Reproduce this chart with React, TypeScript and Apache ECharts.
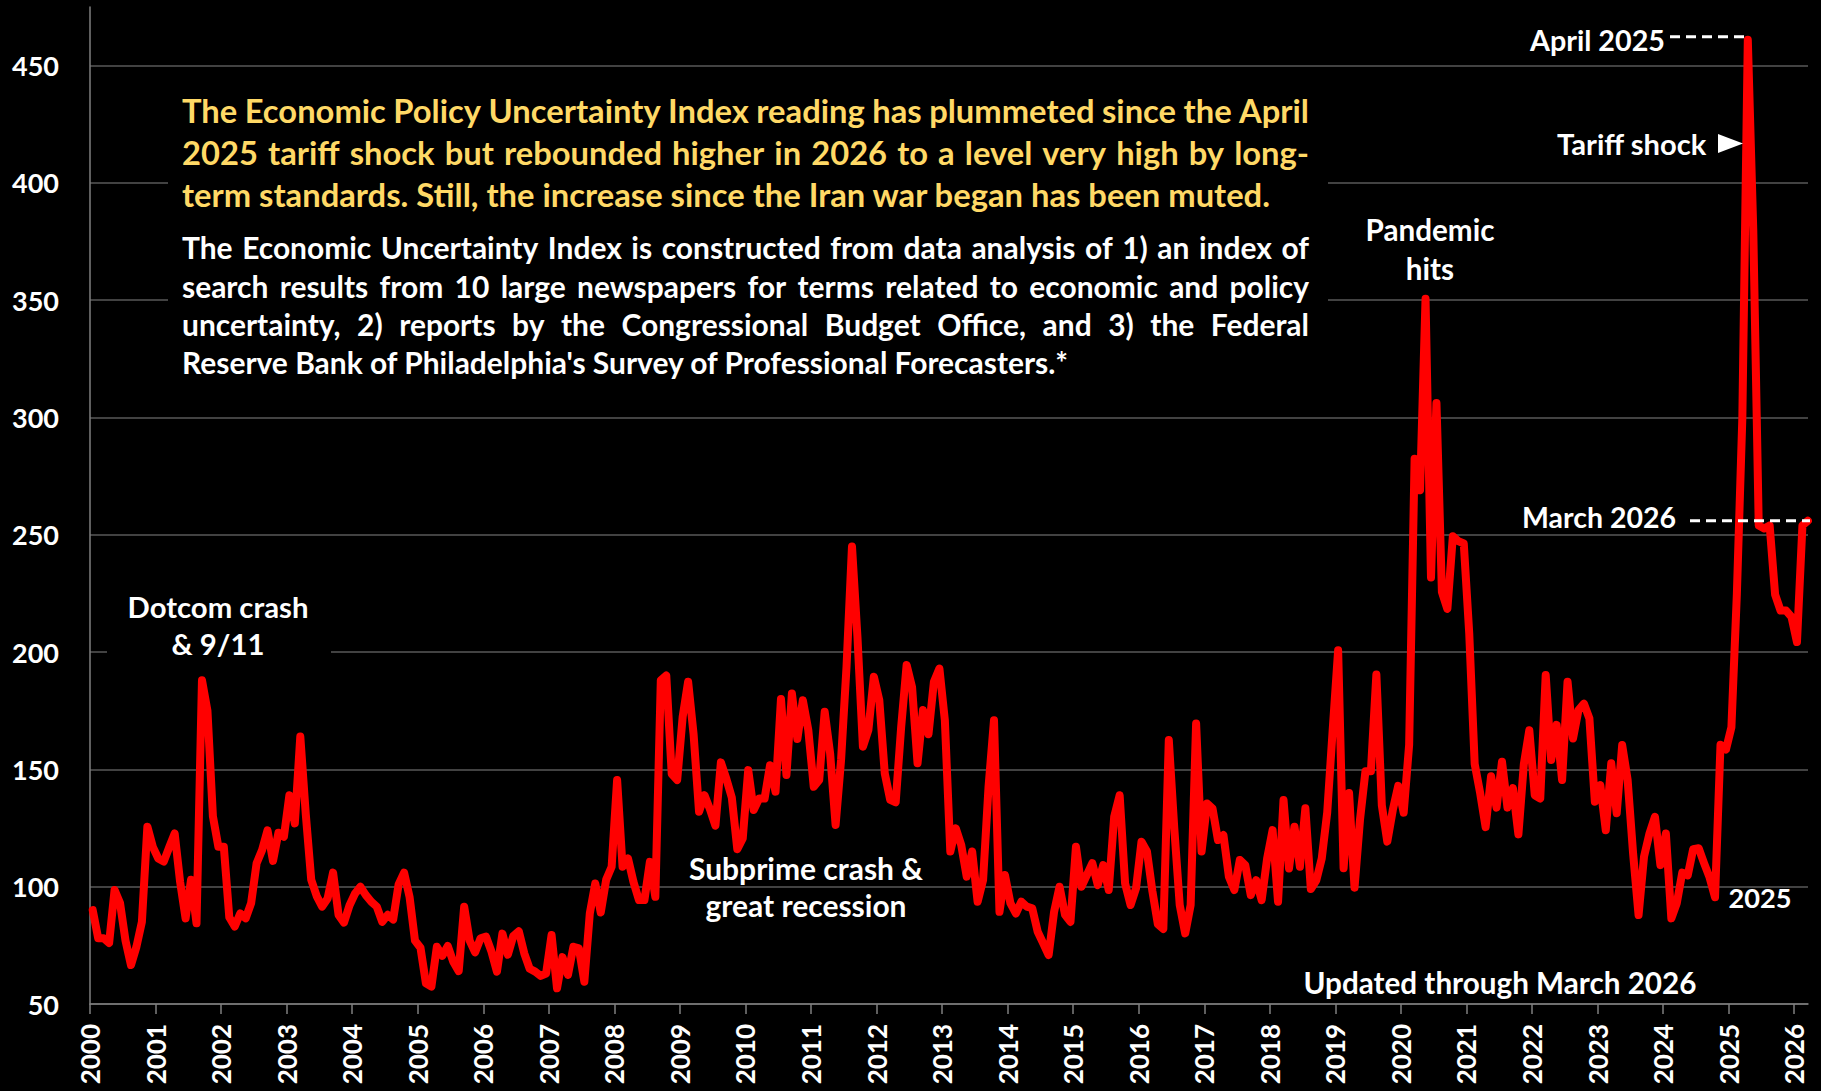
import React, { useEffect, useRef } from "react";
import * as echarts from "echarts";

// ---------- data ----------
const YEARS = [
  2000, 2001, 2002, 2003, 2004, 2005, 2006, 2007, 2008, 2009, 2010, 2011, 2012,
  2013, 2014, 2015, 2016, 2017, 2018, 2019, 2020, 2021, 2022, 2023, 2024, 2025, 2026,
];
const Y_TICKS = [50, 100, 150, 200, 250, 300, 350, 400, 450];

const EPU_2000 = [90, 78, 78, 76, 98.6, 93, 77, 66.6, 74.4, 85, 125.6, 117];
const EPU_2001 = [112, 110.7, 116.8, 122.7, 102, 86.5, 103, 84.4, 188, 175, 130, 117];
const EPU_2002 = [117, 87, 83, 88.6, 86.5, 93, 110, 115.6, 124, 111, 123, 121.3];
const EPU_2003 = [139, 127, 164, 131, 103, 96, 91.5, 95, 106, 88, 84.7, 92];
const EPU_2004 = [97, 100, 96.4, 93.6, 91.5, 85, 88, 86, 101, 106, 95.7, 77];
const EPU_2005 = [74, 58.8, 57.4, 74.4, 70.5, 74.7, 68, 64, 91.5, 77, 72, 78];
const EPU_2006 = [78.7, 72.3, 63.8, 80, 71, 79, 81, 71.6, 65, 63.8, 62, 63];
const EPU_2007 = [79.4, 56.7, 70, 62.4, 74.4, 73.7, 59.5, 88.6, 101.4, 89, 103, 108.5];
const EPU_2008 = [145.5, 108.5, 112, 102, 94.3, 94.3, 110.6, 95.7, 188, 190, 148, 145.5];
const EPU_2009 = [172.4, 187.4, 165, 132, 139, 133, 126, 153, 146, 138, 116, 120.6];
const EPU_2010 = [149.7, 132.7, 137.6, 137.6, 151.8, 140.5, 180, 147.6, 182.4, 163, 179.5, 166.8];
const EPU_2011 = [142.6, 145.5, 174.6, 156.8, 126.3, 154, 193.8, 245, 206.5, 159.7, 166.8, 189.5];
const EPU_2012 = [179.5, 148.3, 137, 136, 168, 194.5, 185, 152.6, 175.3, 165, 187.4, 193];
const EPU_2013 = [171, 115, 124.9, 117.8, 104.3, 115, 93.6, 102.8, 142.6, 171, 89.3, 105];
const EPU_2014 = [93, 88.6, 93.6, 91.5, 90.8, 80.8, 75.9, 70.9, 89.3, 100, 88, 85];
const EPU_2015 = [117, 100, 105, 110, 100.7, 109.2, 98.6, 129.8, 139, 101.4, 92.2, 99.3];
const EPU_2016 = [119.2, 115, 98, 84, 82, 162.5, 125, 92.2, 80.1, 92.2, 169.6, 115];
const EPU_2017 = [135.5, 133.4, 119.9, 122, 104.3, 98.6, 111.4, 109.2, 96.4, 102.8, 94.3, 112];
const EPU_2018 = [124.1, 93.6, 137, 107.8, 125.6, 108.5, 133.4, 99, 102.7, 112, 131.6, 166.7];
const EPU_2019 = [200.8, 107.9, 139.9, 99.6, 128.5, 149.2, 149.2, 190.5, 134.7, 119.2, 132.6, 143];
const EPU_2020 = [131.6, 160.5, 282.4, 269, 350.6, 231.8, 306.2, 225.6, 218.4, 249.4, 247.3, 246.3];
const EPU_2021 = [208, 152.3, 139.9, 125.4, 147.1, 133.7, 153.3, 133.7, 142, 122.3, 152.3, 166.7];
const EPU_2022 = [139, 137.6, 190.2, 154, 169, 145.5, 187.4, 163.2, 175.3, 178, 171.7, 136.2];
const EPU_2023 = [143.3, 124.1, 152.6, 131.3, 160.4, 145.5, 114.2, 87.9, 112.8, 122.7, 129.8, 109.2];
const EPU_2024 = [122.7, 86.5, 93, 106, 104.8, 116, 116.4, 110, 104, 95.5, 160.5, 158.5];
const EPU_2025 = [168, 225, 300, 461, 380, 254, 252.7, 254, 224.5, 217.7, 217.7, 215];
const EPU_2026 = [204.3, 254, 256];

const EPU_BY_YEAR = [
  EPU_2000, EPU_2001, EPU_2002, EPU_2003, EPU_2004, EPU_2005, EPU_2006, EPU_2007,
  EPU_2008, EPU_2009, EPU_2010, EPU_2011, EPU_2012, EPU_2013, EPU_2014, EPU_2015,
  EPU_2016, EPU_2017, EPU_2018, EPU_2019, EPU_2020, EPU_2021, EPU_2022, EPU_2023,
  EPU_2024, EPU_2025, EPU_2026,
];

const TITLE_LINES = [
  "The Economic Policy Uncertainty Index reading has plummeted since the April",
  "2025 tariff shock but rebounded higher in 2026 to a level very high by long-",
  "term standards. Still, the increase since the Iran war began has been muted.",
];
const NOTE_LINES = [
  "The Economic Uncertainty Index is constructed from data analysis of 1) an index of",
  "search results from 10 large newspapers for terms related to economic and policy",
  "uncertainty, 2) reports by the Congressional Budget Office, and 3) the Federal",
  "Reserve Bank of Philadelphia's Survey of Professional Forecasters.*",
];

// ---------- layout helpers ----------
const FAMILY = "Lato, 'Open Sans', 'DejaVu Sans', sans-serif";
let ctx: CanvasRenderingContext2D | null = null;
function measure(text: string, size: number): number {
  if (!ctx) ctx = document.createElement("canvas").getContext("2d");
  ctx!.font = `bold ${size}px ${FAMILY}`;
  return ctx!.measureText(text).width;
}
function fit(text: string, width: number): number {
  return (30 * width) / measure(text, 30);
}
function txt(text: string, x: number, y: number, size: number, fill: string, align = "left") {
  return {
    type: "text",
    x,
    y,
    z: 20,
    style: {
      text,
      fill,
      font: `bold ${size}px ${FAMILY}`,
      textAlign: align,
      textVerticalAlign: "middle",
    },
  };
}
function paragraph(lines: string[], x0: number, x1: number, ys: number[], size: number, fill: string) {
  const out: any[] = [];
  lines.forEach((line, li) => {
    const last = li === lines.length - 1;
    if (last) {
      out.push(txt(line, x0, ys[li], size, fill));
      return;
    }
    const words = line.split(" ");
    const widths = words.map((w) => measure(w, size));
    const total = widths.reduce((a, b) => a + b, 0);
    const gap = (x1 - x0 - total) / (words.length - 1);
    let x = x0;
    words.forEach((w, i) => {
      out.push(txt(w, x, ys[li], size, fill));
      x += widths[i] + gap;
    });
  });
  return out;
}

export default function App() {
  const ref = useRef<HTMLDivElement>(null);
  useEffect(() => {
    document.body.style.margin = "0";
    document.body.style.background = "#000";
    document.body.style.overflow = "hidden";
    const chart = echarts.init(ref.current!, null, { renderer: "svg" });

    const data: [number, number][] = [];
    EPU_BY_YEAR.forEach((arr, yi) =>
      arr.forEach((v, mi) => data.push([YEARS[yi] + (mi + 0.5) / 12, v]))
    );

    const axisGray = "#7f7f7f";
    chart.setOption({
      animation: false,
      backgroundColor: "#000000",
      grid: { left: 90, right: 13, top: 7, bottom: 87, containLabel: false },
      xAxis: {
        type: "value",
        min: 2000,
        max: 2026.21,
        interval: 1,
        axisLine: { show: true, lineStyle: { color: axisGray, width: 1.5 } },
        axisTick: {
          show: true,
          length: 10,
          customValues: YEARS,
          lineStyle: { color: axisGray, width: 1.5 },
        },
        axisLabel: {
          customValues: YEARS,
          rotate: 90,
          margin: 20,
          color: "#ffffff",
          fontFamily: FAMILY,
          fontWeight: "bold",
          fontSize: 26,
          formatter: (v: number) => (Number.isInteger(v) ? String(v) : ""),
        },
        splitLine: { show: false },
      },
      yAxis: {
        type: "value",
        min: 50,
        max: 475,
        interval: 50,
        axisLine: { show: true, lineStyle: { color: axisGray, width: 1.5 } },
        axisTick: { show: false },
        axisLabel: {
          showMaxLabel: false,
          margin: 31,
          color: "#ffffff",
          fontFamily: FAMILY,
          fontWeight: "bold",
          fontSize: 27,
          formatter: (v: number) => (Y_TICKS.includes(v) ? String(v) : ""),
        },
        splitLine: {
          show: true,
          showMaxLine: false,
          lineStyle: { color: "#595959", width: 1.5 },
        },
      },
      series: [
        {
          type: "line",
          data,
          showSymbol: false,
          symbol: "none",
          z: 5,
          lineStyle: { color: "#ff0000", width: 8, join: "round", cap: "round" },
        },
      ],
    });

    // annotation anchors from data
    let peak = 0;
    data.forEach((d, i) => {
      if (d[1] > data[peak][1]) peak = i;
    });
    const pPeak = chart.convertToPixel({ gridIndex: 0 }, data[peak]) as number[];
    const pLast = chart.convertToPixel({ gridIndex: 0 }, data[data.length - 1]) as number[];

    const yellow = "#ffd966";
    const white = "#ffffff";
    const titleSize = fit(TITLE_LINES[2], 1090);
    const noteSize = fit(NOTE_LINES[3], 888);

    const elements: any[] = [
      // black panels behind text blocks
      { type: "rect", z: 1, shape: { x: 168, y: 84, width: 1160, height: 300 }, style: { fill: "#000" } },
      { type: "rect", z: 1, shape: { x: 107, y: 585, width: 224, height: 80 }, style: { fill: "#000" } },
      ...paragraph(TITLE_LINES, 182, 1309, [110, 152, 194], titleSize, yellow),
      ...paragraph(NOTE_LINES, 182, 1309, [247, 286, 324, 362], noteSize, white),
      txt("Dotcom crash", 218, 606, fit("Dotcom crash", 181), white, "center"),
      txt("& 9/11", 218, 643, fit("Dotcom crash", 181), white, "center"),
      txt("Subprime crash &", 806, 868, fit("Subprime crash &", 234), white, "center"),
      txt("great recession", 806, 905, fit("Subprime crash &", 234), white, "center"),
      txt("Pandemic", 1430, 229, fit("Pandemic", 129), white, "center"),
      txt("hits", 1430, 268, fit("Pandemic", 129), white, "center"),
      txt("April 2025", 1665, 40, fit("April 2025", 135), white, "right"),
      {
        type: "line",
        z: 20,
        shape: { x1: 1670, y1: pPeak[1] - 3, x2: pPeak[0], y2: pPeak[1] - 3 },
        style: { stroke: white, lineWidth: 3, lineDash: [10, 6] },
      },
      txt("Tariff shock", 1557, 143, fit("Tariff shock", 150), white, "left"),
      {
        type: "polygon",
        z: 20,
        shape: { points: [[1718, 134], [1718, 153], [1743, 143.5]] },
        style: { fill: white },
      },
      txt("March 2026", 1676, 517, fit("March 2026", 154), white, "right"),
      {
        type: "line",
        z: 20,
        shape: { x1: 1690, y1: pLast[1], x2: 1810, y2: pLast[1] },
        style: { stroke: white, lineWidth: 3, lineDash: [10, 6] },
      },
      txt("2025", 1760, 897, fit("2025", 63), white, "center"),
      txt("Updated through March 2026", 1500, 982, fit("Updated through March 2026", 393), white, "center"),
    ];
    chart.setOption({ graphic: { elements } });

    return () => chart.dispose();
  }, []);
  return <div ref={ref} style={{ width: 1821, height: 1091 }} />;
}
